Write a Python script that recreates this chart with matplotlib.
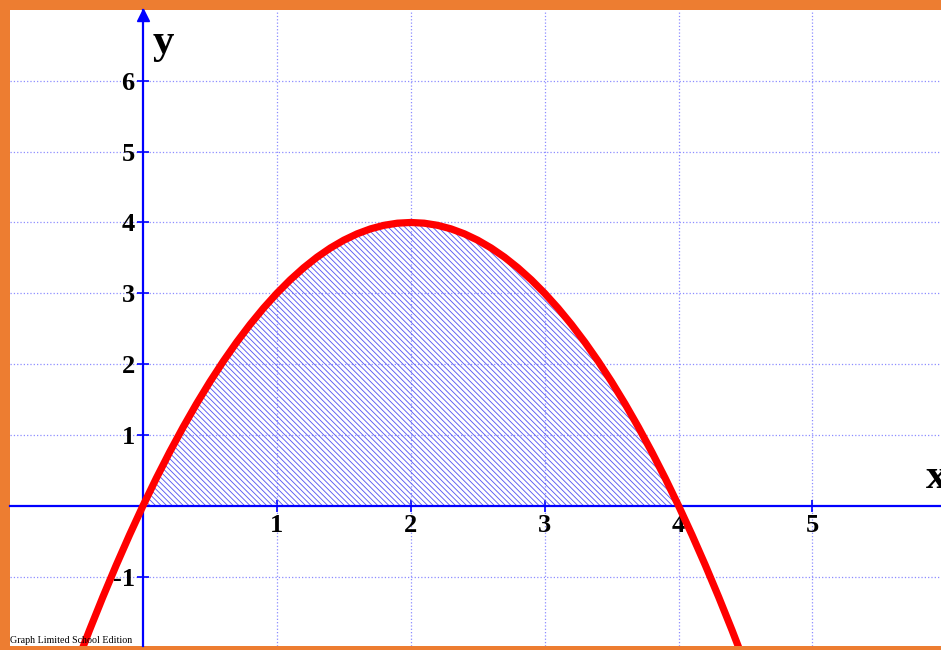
import numpy as np
import matplotlib.pyplot as plt

# points
x_curve = [-0.5, -0.4, -0.3, -0.2, -0.1, 0.0, 0.1, 0.2, 0.3, 0.4, 0.5,
           0.6, 0.7, 0.8, 0.9, 1.0, 1.1, 1.2, 1.3, 1.4, 1.5,
           1.6, 1.7, 1.8, 1.9, 2.0, 2.1, 2.2, 2.3, 2.4, 2.5,
           2.6, 2.7, 2.8, 2.9, 3.0, 3.1, 3.2, 3.3, 3.4, 3.5,
           3.6, 3.7, 3.8, 3.9, 4.0, 4.1, 4.2, 4.3, 4.4, 4.5]
y_curve = [-2.25, -1.76, -1.29, -0.84, -0.41, 0.0, 0.39, 0.76, 1.11, 1.44, 1.75,
           2.04, 2.31, 2.56, 2.79, 3.0, 3.19, 3.36, 3.51, 3.64, 3.75,
           3.84, 3.91, 3.96, 3.99, 4.0, 3.99, 3.96, 3.91, 3.84, 3.75,
           3.64, 3.51, 3.36, 3.19, 3.0, 2.79, 2.56, 2.31, 2.04, 1.75,
           1.44, 1.11, 0.76, 0.39, 0.0, -0.41, -0.84, -1.29, -1.76, -2.25]

# shaded area runs from 0 to 4
x_area = x_curve[5:46]
y_area = y_curve[5:46]

xticks = [1, 2, 3, 4, 5]
yticks = [-1, 1, 2, 3, 4, 5, 6]

plt.rcParams['hatch.linewidth'] = 0.65
plt.rcParams['hatch.color'] = '#5c5cf2'

fig = plt.figure(figsize=(9.41, 6.5), dpi=100, facecolor='#ED7D31')
ax = fig.add_axes([10/941, 4/650, 931/941, 636/650])
ax.set_facecolor('white')
ax.set_xlim(-0.993, 5.96)
ax.set_ylim(-1.98, 7.0)

# grid
ax.set_xticks(xticks)
ax.set_yticks(yticks)
ax.grid(True, linestyle=':', color='#8c8cff', linewidth=0.9)
ax.set_axisbelow(True)

# axes through origin
for s in ['top', 'right']:
    ax.spines[s].set_visible(False)
ax.spines['left'].set_position(('data', 0))
ax.spines['bottom'].set_position(('data', 0))
for s in ['left', 'bottom']:
    ax.spines[s].set_color('#0000ff')
    ax.spines[s].set_linewidth(1.6)
    ax.spines[s].set_zorder(1.5)

ax.tick_params(direction='inout', length=8, width=1.2, color='#0000ff', pad=2)
ax.set_xticklabels([str(t) for t in xticks], fontfamily='Liberation Serif',
                   fontweight='bold', fontsize=19)
ax.set_yticklabels([str(t) for t in yticks], fontfamily='Liberation Serif',
                   fontweight='bold', fontsize=19)

# hatched area under curve
ax.fill_between(x_area, y_area, 0, facecolor='none', edgecolor='#5c5cf2',
                linewidth=0, hatch='\\\\\\\\\\\\', zorder=1)

# the curve
ax.plot(x_curve, y_curve, color='#ff0000', linewidth=5.2,
        solid_capstyle='butt', zorder=3)

# arrow on y axis
ax.plot([0], [6.93], marker='^', markersize=8, color='#0000ff', clip_on=False,
        zorder=2)

ax.text(0.075, 6.39, 'y', fontfamily='Liberation Serif', fontweight='bold',
        fontsize=31, ha='left', va='baseline')
ax.text(5.85, 0.25, 'x', fontfamily='Liberation Serif', fontweight='bold',
        fontsize=31, ha='left', va='baseline', clip_on=True)

ax.text(0.0, 0.005, 'Graph Limited School Edition', fontfamily='Liberation Serif',
        fontsize=7.2, ha='left', va='baseline', transform=ax.transAxes)

fig.savefig('out.png', dpi=100, facecolor=fig.get_facecolor())
